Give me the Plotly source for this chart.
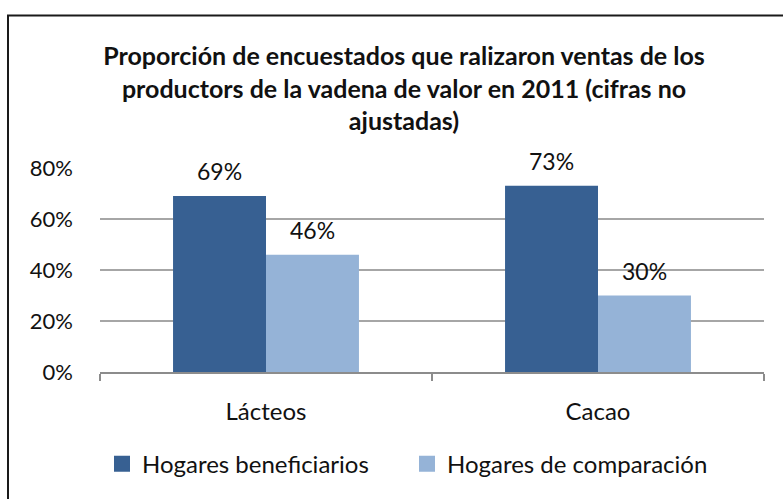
import plotly.graph_objects as go

categories = ["Lácteos", "Cacao"]
series_names = ["Hogares beneficiarios", "Hogares de comparación"]
beneficiarios = [0.69, 0.73]
comparacion = [0.46, 0.30]
y_ticks = [0, 0.2, 0.4, 0.6, 0.8]
y_tick_labels = ["0%", "20%", "40%", "60%", "80%"]
title_text = ("Proporción de encuestados que ralizaron ventas de los<br>"
              "productors de la vadena de valor en 2011 (cifras no<br>"
              "ajustadas)")

colors = ["#376092", "#95B3D7"]
FONT = "Lato"
TXT = "#111111"

W, H = 783, 499
L, R, T, B = 100, 19, 168, 125
pw, ph = W - L - R, H - T - B

fig = go.Figure()
for name, vals, col in zip(series_names, [beneficiarios, comparacion], colors):
    fig.add_trace(go.Bar(x=categories, y=vals, name=name, showlegend=False,
                         marker=dict(color=col, line=dict(width=0))))
# legend entries with larger square swatches
for name, col in zip(series_names, colors):
    fig.add_trace(go.Scatter(x=[None], y=[None], mode="markers", name=name,
                             marker=dict(symbol="square", size=16, color=col)))

# data labels
bar_px = pw / len(categories) * (1 - 0.44) / 2
for i, vals in enumerate([beneficiarios, comparacion]):
    shift = (i - 0.5) * bar_px
    for c, v in zip(categories, vals):
        fig.add_annotation(x=c, y=v, text=f"{round(v*100)}%", showarrow=False,
                           xshift=shift, yshift=25, yanchor="middle",
                           font=dict(family=FONT, size=23, color=TXT))

def px_to_paper_x(p):
    return (p - L) / pw

def px_to_paper_y(p):
    return (H - B - p) / ph

# outer frame (extends beyond the picture right and bottom)
fig.add_shape(type="rect", xref="paper", yref="paper",
              x0=px_to_paper_x(8), x1=px_to_paper_x(W + 20),
              y0=px_to_paper_y(H + 20), y1=px_to_paper_y(14),
              line=dict(color="#1a1a1a", width=2), fillcolor="rgba(0,0,0,0)",
              layer="below")

fig.update_layout(
    width=W, height=H,
    margin=dict(l=L, r=R, t=T, b=B),
    paper_bgcolor="white", plot_bgcolor="white",
    title=dict(text=title_text, x=404 / W, xref="container", xanchor="center",
               y=1 - 65 / H, yref="container", yanchor="middle",
               font=dict(family=FONT, size=25, color=TXT, weight="bold")),
    barmode="group", bargap=0.44, bargroupgap=0,
    showlegend=True,
    legend=dict(orientation="h", x=px_to_paper_x(102), xanchor="left",
                y=px_to_paper_y(467), yanchor="middle",
                entrywidth=260, entrywidthmode="pixels",
                itemsizing="trace",
                font=dict(family=FONT, size=24, color=TXT),
                bgcolor="rgba(0,0,0,0)", traceorder="normal"),
    font=dict(family=FONT, size=21, color=TXT),
)
fig.update_xaxes(showgrid=False, showline=True, linecolor="#8c8c8c", linewidth=1.5,
                 ticks="outside", tickson="boundaries", ticklen=7, tickcolor="#8c8c8c",
                 tickwidth=1.5, ticklabelstandoff=17,
                 tickfont=dict(family=FONT, size=24, color=TXT))
fig.update_yaxes(range=[0, 0.8], tickvals=y_ticks, ticktext=y_tick_labels,
                 showgrid=True, gridcolor="#A6A6A6", gridwidth=1.5,
                 zeroline=False, showline=False, ticks="",
                 ticklabelstandoff=26,
                 tickfont=dict(family=FONT, size=22, color=TXT))

fig.write_html("out.html", config={"displayModeBar": False},
               post_script="document.body.style.margin='0';document.body.style.overflow='hidden';")
